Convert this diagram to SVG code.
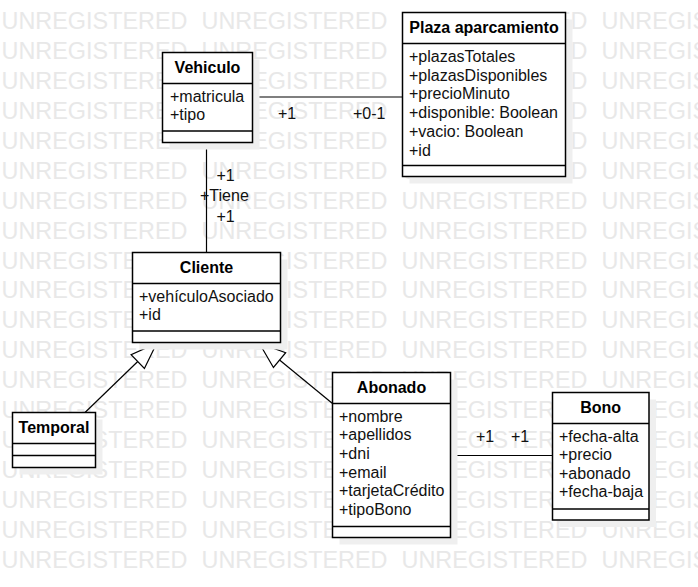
<svg xmlns="http://www.w3.org/2000/svg" xmlns:xlink="http://www.w3.org/1999/xlink" width="698" height="587" viewBox="0 0 698 587">
<style>
.wm{font-family:"Liberation Sans",Arial,sans-serif;font-size:23px;fill:#e8e8e8}
.shadow{fill:#efefef}
.box{fill:#fff;stroke:#000;stroke-width:1.5}
.div{stroke:#000;stroke-width:1.5}
.title{font-family:"Liberation Sans",Arial,sans-serif;font-size:16px;font-weight:bold;text-anchor:middle;fill:#000}
.attr{font-family:"Liberation Sans",Arial,sans-serif;font-size:16px;fill:#111}
.edge{stroke:#000;stroke-width:1.2;fill:none}
.tri{fill:#fff;stroke:#000;stroke-width:1.2}
.lbl{font-family:"Liberation Sans",Arial,sans-serif;font-size:16px;fill:#111}
</style>
<defs>
<g id="wmrow">
<text class="wm" x="1.5" y="0" textLength="186" lengthAdjust="spacingAndGlyphs">UNREGISTERED</text>
<text class="wm" x="201.5" y="0" textLength="186" lengthAdjust="spacingAndGlyphs">UNREGISTERED</text>
<text class="wm" x="401.5" y="0" textLength="186" lengthAdjust="spacingAndGlyphs">UNREGISTERED</text>
<text class="wm" x="601.5" y="0" textLength="186" lengthAdjust="spacingAndGlyphs">UNREGISTERED</text>
</g>
</defs>
<rect width="698" height="587" fill="#fff"/>
<g id="watermark">
<use xlink:href="#wmrow" y="29"/>
<use xlink:href="#wmrow" y="59"/>
<use xlink:href="#wmrow" y="89"/>
<use xlink:href="#wmrow" y="118.5"/>
<use xlink:href="#wmrow" y="148.5"/>
<use xlink:href="#wmrow" y="178.5"/>
<use xlink:href="#wmrow" y="208.5"/>
<use xlink:href="#wmrow" y="238.5"/>
<use xlink:href="#wmrow" y="268.5"/>
<use xlink:href="#wmrow" y="298"/>
<use xlink:href="#wmrow" y="328"/>
<use xlink:href="#wmrow" y="358"/>
<use xlink:href="#wmrow" y="388"/>
<use xlink:href="#wmrow" y="418"/>
<use xlink:href="#wmrow" y="448"/>
<use xlink:href="#wmrow" y="478"/>
<use xlink:href="#wmrow" y="508"/>
<use xlink:href="#wmrow" y="538"/>
<use xlink:href="#wmrow" y="568"/>
</g>
<g id="connectors">
<line class="edge" x1="252.5" y1="97" x2="402.5" y2="97"/>
<text class="lbl" x="278" y="119">+1</text>
<text class="lbl" x="353" y="119">+0-1</text>
<line class="edge" x1="206.5" y1="142.5" x2="206.5" y2="252.5"/>
<text class="lbl" x="216.5" y="180.5">+1</text>
<text class="lbl" x="200" y="200.5">+Tiene</text>
<text class="lbl" x="216.5" y="221.5">+1</text>
<line class="edge" x1="85" y1="412.5" x2="137.75" y2="361.54"/>
<polygon class="tri" points="156.7,343.3 144.41,368.46 131.09,354.62"/>
<line class="edge" x1="332.5" y1="403.5" x2="279.55" y2="360.08"/>
<polygon class="tri" points="259.3,343.3 273.43,367.47 285.68,352.69"/>
<line class="edge" x1="450.5" y1="455.5" x2="552.5" y2="455.5"/>
<text class="lbl" x="476" y="441.5">+1</text>
<text class="lbl" x="511" y="441.5">+1</text>
</g>
<g id="vehiculo">
<rect class="shadow" x="169.5" y="59.5" width="90" height="90"/>
<rect class="box" x="162.5" y="52.5" width="90" height="90"/>
<line class="div" x1="162.5" y1="83.5" x2="252.5" y2="83.5"/>
<line class="div" x1="162.5" y1="131" x2="252.5" y2="131"/>
<text class="title" x="207.5" y="72.5">Vehiculo</text>
<text class="attr" x="170" y="101.5">+matricula</text>
<text class="attr" x="170" y="120">+tipo</text>
</g>
<g id="plaza">
<rect class="shadow" x="409.5" y="19.5" width="163" height="164"/>
<rect class="box" x="402.5" y="12.5" width="163" height="164"/>
<line class="div" x1="402.5" y1="43.5" x2="565.5" y2="43.5"/>
<line class="div" x1="402.5" y1="165.5" x2="565.5" y2="165.5"/>
<text class="title" x="484" y="32.5">Plaza aparcamiento</text>
<text class="attr" x="409" y="62">+plazasTotales</text>
<text class="attr" x="409" y="80.7">+plazasDisponibles</text>
<text class="attr" x="409" y="99.4">+precioMinuto</text>
<text class="attr" x="409" y="118.1">+disponible: Boolean</text>
<text class="attr" x="409" y="136.8">+vacio: Boolean</text>
<text class="attr" x="409" y="155.5">+id</text>
</g>
<g id="cliente">
<rect class="shadow" x="139.5" y="259.5" width="148" height="90"/>
<rect class="box" x="132.5" y="252.5" width="148" height="90"/>
<line class="div" x1="132.5" y1="283.5" x2="280.5" y2="283.5"/>
<line class="div" x1="132.5" y1="331" x2="280.5" y2="331"/>
<text class="title" x="206.5" y="272.5">Cliente</text>
<text class="attr" x="139" y="301.5">+vehículoAsociado</text>
<text class="attr" x="139" y="320">+id</text>
</g>
<g id="temporal">
<rect class="shadow" x="19.5" y="419.5" width="83" height="55"/>
<rect class="box" x="12.5" y="412.5" width="83" height="55"/>
<line class="div" x1="12.5" y1="443.5" x2="95.5" y2="443.5"/>
<line class="div" x1="12.5" y1="455.5" x2="95.5" y2="455.5"/>
<text class="title" x="54" y="432.5">Temporal</text>
</g>
<g id="abonado">
<rect class="shadow" x="339.5" y="379.5" width="118" height="165"/>
<rect class="box" x="332.5" y="372.5" width="118" height="165"/>
<line class="div" x1="332.5" y1="403.5" x2="450.5" y2="403.5"/>
<line class="div" x1="332.5" y1="526.5" x2="450.5" y2="526.5"/>
<text class="title" x="391.5" y="392.5">Abonado</text>
<text class="attr" x="339" y="421.7">+nombre</text>
<text class="attr" x="339" y="440.4">+apellidos</text>
<text class="attr" x="339" y="459">+dni</text>
<text class="attr" x="339" y="477.7">+email</text>
<text class="attr" x="339" y="496.4">+tarjetaCrédito</text>
<text class="attr" x="339" y="515.1">+tipoBono</text>
</g>
<g id="bono">
<rect class="shadow" x="559.5" y="399.5" width="96.5" height="127.5"/>
<rect class="box" x="552.5" y="392.5" width="96.5" height="127.5"/>
<line class="div" x1="552.5" y1="423.5" x2="649" y2="423.5"/>
<line class="div" x1="552.5" y1="509" x2="649" y2="509"/>
<text class="title" x="600.7" y="412.5">Bono</text>
<text class="attr" x="559" y="441.5">+fecha-alta</text>
<text class="attr" x="559" y="460">+precio</text>
<text class="attr" x="559" y="478.5">+abonado</text>
<text class="attr" x="559" y="497">+fecha-baja</text>
</g>
</svg>
